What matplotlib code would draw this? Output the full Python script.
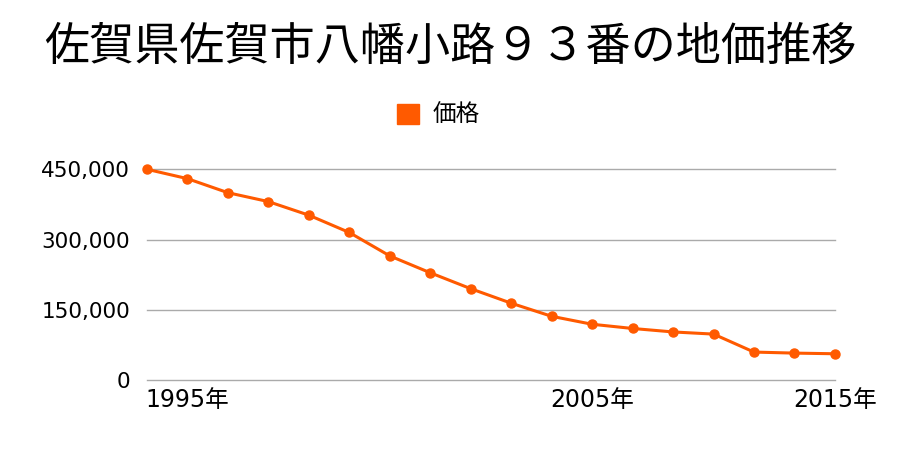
from matplotlib import pyplot as plt
from matplotlib.ticker import FuncFormatter

plt.rcParams['font.family'] = ['Noto Sans CJK JP', 'DejaVu Sans']

title = "佐賀県佐賀市八幡小路９３番の地価推移"
series_name = "価格"
prices = [450000, 430000, 400000, 381000, 352000, 315000, 265000, 229000, 195000,
          164000, 136000, 119000, 110000, 102600, 98000, 59600, 57400, 56000]
tick_pos = [1, 11, 17]
tick_labels = ["1995年", "2005年", "2015年"]
y_ticks = [0, 150000, 300000, 450000]

color = "#FF5A00"
num_font = ['DejaVu Sans', 'Noto Sans CJK JP']

fig = plt.figure(figsize=(9, 4.5), dpi=100)
ax = fig.add_axes([0.1633, 0.1556, 0.7644, 0.4682])

x = list(range(len(prices)))
ax.plot(x, prices, color=color, lw=2.2, marker="o", ms=6.5, clip_on=False, label=series_name, zorder=3)

ax.set_xlim(0, len(prices) - 1)
ax.set_ylim(0, 450000)
ax.set_yticks(y_ticks)
ax.yaxis.set_major_formatter(FuncFormatter(lambda v, p: f"{int(v):,}"))
ax.set_xticks(tick_pos)
ax.set_xticklabels(tick_labels)
ax.tick_params(axis="both", length=0)
ax.tick_params(axis="y", pad=12, labelsize=15.5)
ax.tick_params(axis="x", pad=6, labelsize=17)
for lab in ax.get_xticklabels() + ax.get_yticklabels():
    lab.set_family(num_font)
ax.grid(axis="y", color="#aaaaaa", lw=1)
for gl in ax.get_ygridlines():
    gl.set_clip_on(False)
ax.set_axisbelow(True)
for s in ax.spines.values():
    s.set_visible(False)

fig.text(0.5, 0.895, title, ha="center", va="center", fontsize=32.5)
fig.legend(handles=[plt.Rectangle((0, 0), 1, 1, color=color)], labels=[series_name],
           loc="center", bbox_to_anchor=(0.487, 0.744), frameon=False, fontsize=17,
           handlelength=0.93, handleheight=0.93, handletextpad=0.6)

plt.savefig("out.png")
